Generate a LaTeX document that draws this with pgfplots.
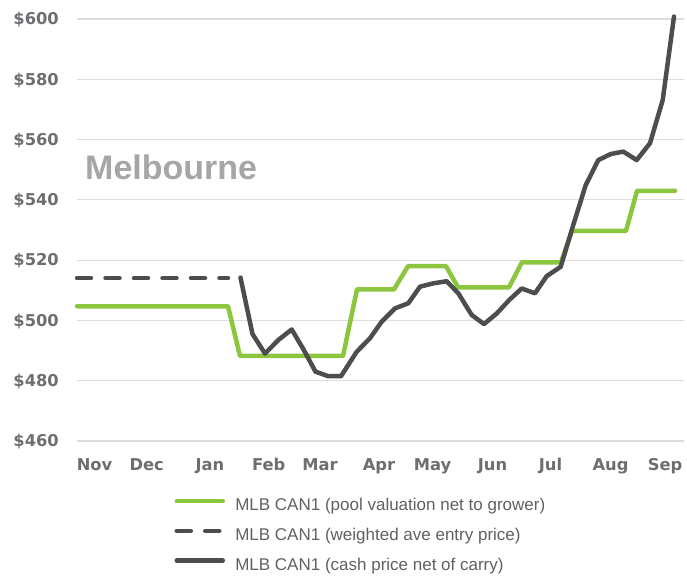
\documentclass[border=0pt]{standalone}
\usepackage{fontspec}
\setmainfont{Liberation Sans}
\newfontfamily\tickfont{DejaVu Sans}
\usepackage{pgfplots}
\pgfplotsset{compat=1.18}
\definecolor{cgreen}{HTML}{8CC63E}
\definecolor{cdark}{HTML}{4D4D4F}
\definecolor{ctick}{HTML}{6D6E71}
\definecolor{cgrid}{HTML}{DDDDDD}
\definecolor{cmel}{HTML}{A6A6A6}
\definecolor{cleg}{HTML}{5F6062}
\begin{document}
\begin{tikzpicture}[x=1pt,y=1pt]
\useasboundingbox (0,0) rectangle (687,576);
\begin{axis}[
  at={(77pt,135pt)}, anchor=south west,
  scale only axis, width=607pt, height=422pt,
  xmin=77, xmax=684, ymin=460, ymax=600,
  clip=false,
  axis line style={draw=none},
  major tick length=0pt,
  ytick={460,480,500,520,540,560,580,600},
  yticklabels={\$460,\$480,\$500,\$520,\$540,\$560,\$580,\$600},
  xtick={94.5,146.7,210,268.8,320,379,432.5,492.5,550.5,610.5,665},
  xticklabels={Nov,Dec,Jan,Feb,Mar,Apr,May,Jun,Jul,Aug,Sep},
  ymajorgrids, grid style={cgrid, line width=1.2pt},
  tick label style={font=\tickfont\bfseries\fontsize{16.3}{19}\selectfont, text=ctick, inner sep=0pt},
  yticklabel style={anchor=base east, xshift=-18pt, yshift=-5.8pt},
  xticklabel style={anchor=base, yshift=-29pt},
  legend style={at={(axis description cs:0.16063,-0.1178)}, anchor=north west,
    draw=none, fill=none, inner sep=0pt, outer sep=0pt, row sep=0pt, column sep=0pt,
    font=\fontsize{17}{20}\selectfont, text=cleg,
    nodes={inner sep=0pt, inner xsep=10.3pt, text height=20pt, text depth=9.7pt, anchor=base west},
    cells={anchor=base west}},
  legend image code/.code={\draw[#1] (0pt,9.5pt) -- (46pt,9.5pt);},
]
\addplot[cgreen, line width=4.5pt, line cap=round, line join=round] coordinates {
(77,504.7) (228,504.7) (240,488.2) (343,488.2) (357,510.3) (394,510.3) (408,518) (446,518)
(458,511) (509,511) (522,519.3) (561,519.3) (572,529.7) (626,529.7) (637,543) (675,543)};
\addlegendentry{MLB CAN1 (pool valuation net to grower)}
\addplot[cdark, line width=4.5pt, line cap=round, dash pattern=on 14pt off 14.5pt] coordinates {
(77,514) (228,514)};
\addlegendentry{MLB CAN1 (weighted ave entry price)}
\addplot[cdark, line width=4.5pt, line cap=round, line join=round] coordinates {
(240.5,514.2) (252.5,495.5) (265,489) (278.3,493.5) (291.7,497) (303.3,490.5) (315.5,483)
(328.3,481.5) (341,481.5) (356.7,489.6) (370,494.1) (381.7,499.6) (395,504) (408.3,505.7)
(420,511.2) (433.3,512.3) (446.7,513) (458.3,509) (471.7,501.8) (484,498.8) (496.7,502.3)
(509.3,506.8) (521.7,510.6) (535,509) (546.7,514.7) (560.7,517.8) (573.3,531.7) (585.7,544.9)
(598.3,553.2) (610.7,555.2) (623.3,556) (636.7,553.2) (650,558.8) (662.7,573.1) (674,600.8)};
\addlegendentry{MLB CAN1 (cash price net of carry)}
\node[anchor=base west, inner sep=0pt, font=\bfseries\fontsize{34}{40}\selectfont, text=cmel]
  at (axis cs:85,546.6) {Melbourne};
\end{axis}
\end{tikzpicture}
\end{document}
